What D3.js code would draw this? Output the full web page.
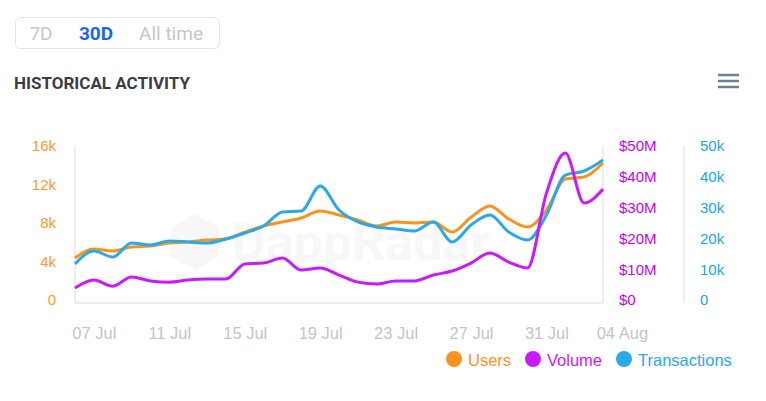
<!DOCTYPE html>
<html>
<head>
<meta charset="utf-8">
<script src="https://cdn.jsdelivr.net/npm/d3@7"></script>
<style>
  body { margin: 0; background: #fff; font-family: Roboto, "Open Sans", sans-serif; }
  svg { display: block; }
</style>
</head>
<body>
<svg id="chart" width="766" height="401"></svg>
<script>
// daily data, 06 Jul -> 03 Aug
var startDate = "2021-07-06";
var users = [4360, 5300, 5090, 5500, 5610, 5920, 6030, 6230, 6340, 7060, 7690, 8100, 8520, 9250, 8830,
  8310, 7690, 8100, 8000, 8100, 7060, 8600, 9770, 8420, 7580, 9350, 12570, 12780, 14230];
var volume = [3.9, 6.5, 4.5, 7.5, 6.2, 5.8, 6.5, 6.8, 6.8, 11.7, 12.0, 13.6, 9.7, 10.4, 8.1,
  5.8, 5.2, 6.2, 6.2, 8.1, 9.4, 12.0, 15.3, 12.3, 10.4, 34.7, 47.7, 31.5, 36.0]; // $M
var transactions = [11700, 15900, 13960, 18500, 17860, 19160, 18830, 18500, 19800, 21750, 24030, 28570, 28900, 37010, 29220,
  25330, 23700, 23050, 22400, 25330, 18830, 24350, 27600, 22080, 19480, 27600, 40580, 41880, 45450];

var usersTicks = [0, 4000, 8000, 12000, 16000];
var volumeTicks = [0, 10, 20, 30, 40, 50];
var txTicks = [0, 10000, 20000, 30000, 40000, 50000];
var tickDates = ["2021-07-07", "2021-07-11", "2021-07-15", "2021-07-19", "2021-07-23", "2021-07-27", "2021-07-31", "2021-08-04"];
var ranges = ["7D", "30D", "All time"];
var legendItems = ["Users", "Volume", "Transactions"];

var colors = { users: "#f7931e", volume: "#c71aff", tx: "#2aa9e6" };
var axisFont = "'Liberation Sans', Arial, sans-serif";

var svg = d3.select("#chart");
var parse = d3.utcParse("%Y-%m-%d");
var t0 = parse(startDate);
var dates = users.map(function (d, i) { return d3.utcDay.offset(t0, i); });

var plot = { left: 75, right: 603, top: 146, bottom: 300 };

var x = d3.scaleUtc().domain([dates[0], dates[dates.length - 1]]).range([plot.left, plot.right]);
var yU = d3.scaleLinear().domain([0, 16000]).range([plot.bottom, plot.top]);
var yV = d3.scaleLinear().domain([0, 50]).range([plot.bottom, plot.top]);
var yT = d3.scaleLinear().domain([0, 50000]).range([plot.bottom, plot.top]);

// range buttons
svg.append("rect").attr("x", 15.5).attr("y", 17.5).attr("width", 204).attr("height", 31)
  .attr("rx", 5).attr("fill", "#fff").attr("stroke", "#e3e3e3");
var btnX = [41, 96, 171];
svg.selectAll("text.btn").data(ranges).join("text")
  .attr("class", "btn")
  .attr("x", function (d, i) { return btnX[i]; })
  .attr("y", 40)
  .attr("text-anchor", "middle")
  .attr("font-size", 19)
  .attr("font-weight", function (d) { return d == "30D" ? 700 : 400; })
  .attr("fill", function (d) { return d == "30D" ? "#1467f5" : "#c6c6c6"; })
  .text(String);

svg.append("text").attr("x", 14).attr("y", 89)
  .attr("font-size", 17).attr("font-weight", 700).attr("fill", "#3c3c46")
  .text("HISTORICAL ACTIVITY");

// menu icon
svg.append("g").selectAll("line").data([75, 81, 87]).join("line")
  .attr("x1", 718).attr("x2", 739)
  .attr("y1", function (d) { return d; }).attr("y2", function (d) { return d; })
  .attr("stroke", "#6f8090").attr("stroke-width", 2.5);

// watermark
var wm = svg.append("g").attr("opacity", 0.04);
var hex = d3.range(6).map(function (k) {
  var a = Math.PI / 3 * k + Math.PI / 6;
  return [195 + 28 * Math.cos(a), 242 + 28 * Math.sin(a)];
});
wm.append("path").attr("d", "M" + hex.join("L") + "Z").attr("fill", "#555");
wm.append("text").attr("x", 232).attr("y", 260).attr("font-size", 52).attr("font-weight", 700)
  .attr("fill", "#555").text("DappRadar");

// frame lines
var frame = svg.append("g").attr("stroke", "#eeeeee").attr("stroke-width", 2);
frame.append("line").attr("x1", plot.left).attr("x2", plot.left).attr("y1", plot.top).attr("y2", plot.bottom + 3);
frame.append("line").attr("x1", plot.left).attr("x2", plot.right).attr("y1", plot.bottom + 3).attr("y2", plot.bottom + 3);
frame.append("line").attr("x1", plot.right).attr("x2", plot.right).attr("y1", plot.top).attr("y2", plot.bottom + 3);
frame.append("line").attr("x1", 684).attr("x2", 684).attr("y1", plot.top).attr("y2", plot.bottom + 3);

// axes
function styleAxis(g, color, size) {
  g.select(".domain").remove();
  g.selectAll(".tick line").remove();
  g.selectAll("text").attr("fill", color).attr("font-size", size)
    .attr("font-family", axisFont);
}

svg.append("g").attr("transform", "translate(" + (plot.left - 16) + ",0)")
  .call(d3.axisLeft(yU).tickValues(usersTicks).tickSize(0)
    .tickFormat(function (d) { return d == 0 ? "0" : d / 1000 + "k"; }))
  .call(function (g) { styleAxis(g, "#ff9a1f", 15); });

svg.append("g").attr("transform", "translate(619,0)")
  .call(d3.axisRight(yV).tickValues(volumeTicks).tickSize(0).tickPadding(0)
    .tickFormat(function (d) { return d == 0 ? "$0" : "$" + d + "M"; }))
  .call(function (g) { styleAxis(g, "#c400ff", 15); });

svg.append("g").attr("transform", "translate(700,0)")
  .call(d3.axisRight(yT).tickValues(txTicks).tickSize(0).tickPadding(0)
    .tickFormat(function (d) { return d == 0 ? "0" : d / 1000 + "k"; }))
  .call(function (g) { styleAxis(g, "#1aa5e8", 15); });

svg.append("g").attr("transform", "translate(0," + (plot.bottom + 24) + ")")
  .call(d3.axisBottom(x).tickValues(tickDates.map(parse)).tickSize(0)
    .tickFormat(d3.utcFormat("%d %b")))
  .call(function (g) { styleAxis(g, "#c4c4c4", 16.5); });

// lines
function lineFor(yScale) {
  return d3.line()
    .x(function (d, i) { return x(dates[i]); })
    .y(function (d) { return yScale(d); })
    .curve(d3.curveMonotoneX);
}

var series = [
  { values: users, y: yU, color: colors.users },
  { values: transactions, y: yT, color: colors.tx },
  { values: volume, y: yV, color: colors.volume }
];

svg.append("g").selectAll("path").data(series).join("path")
  .attr("fill", "none")
  .attr("stroke", function (d) { return d.color; })
  .attr("stroke-width", 3)
  .attr("stroke-linejoin", "round")
  .attr("d", function (d) { return lineFor(d.y)(d.values); });

// legend
var legX = [454, 533, 624];
var legColors = [colors.users, colors.volume, colors.tx];
var leg = svg.append("g").selectAll("g").data(legendItems).join("g")
  .attr("transform", function (d, i) { return "translate(" + legX[i] + ",359)"; });
leg.append("circle").attr("r", 8).attr("fill", function (d, i) { return legColors[i]; });
leg.append("text").attr("x", 14).attr("y", 7).attr("font-size", 16.5)
  .attr("font-family", axisFont)
  .attr("fill", function (d, i) { return legColors[i]; })
  .text(String);
</script>
</body>
</html>
